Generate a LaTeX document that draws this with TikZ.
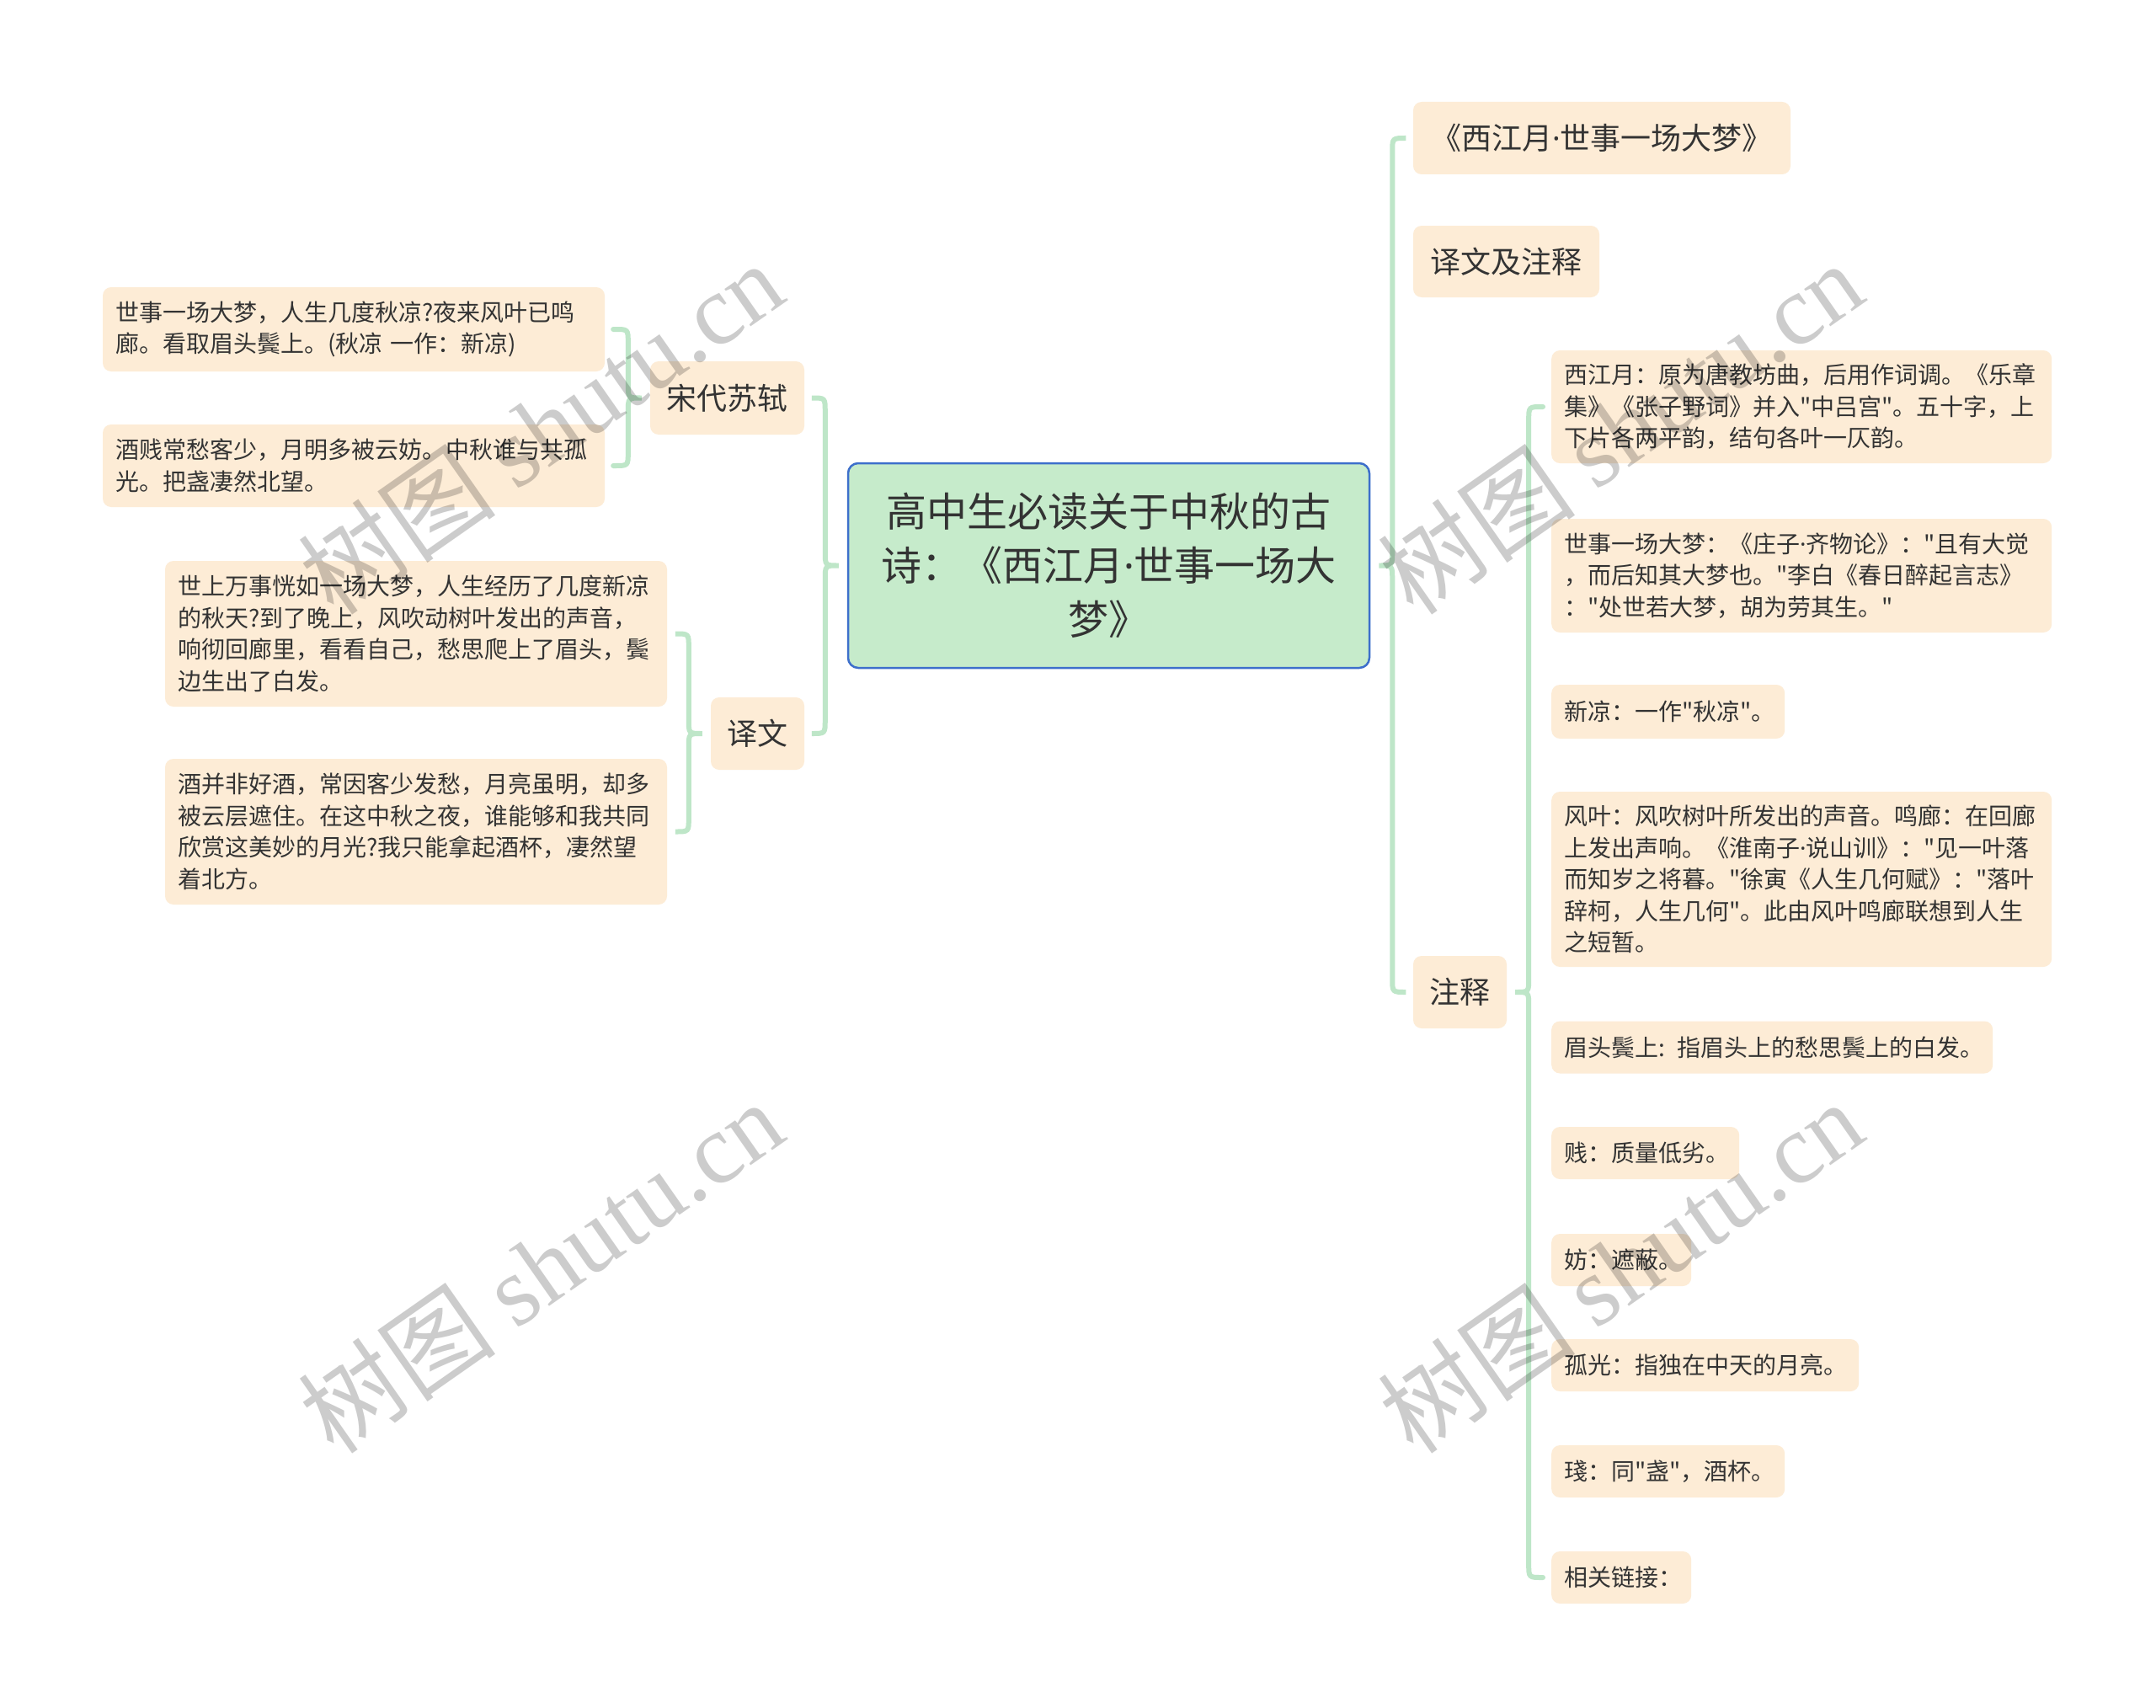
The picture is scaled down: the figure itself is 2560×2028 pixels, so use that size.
\documentclass[tikz,border=0pt]{standalone}
\usepackage{fontspec}
\setmainfont{Noto Sans CJK SC}[Ligatures=TeXOff]
\newfontfamily\wmserif{Liberation Serif}
\newfontfamily\latinf{Noto Sans}
\newcommand\md{{\latinf ·}}
\usetikzlibrary{calc}
\definecolor{leafc}{HTML}{FDECD6}
\definecolor{rootc}{HTML}{C6EBCB}
\definecolor{rootb}{HTML}{3D6FCB}
\definecolor{linec}{HTML}{BEE6C8}
\definecolor{txt}{HTML}{333333}
\tikzset{
 box/.style={rounded corners=10pt, fill=leafc, text=txt, inner sep=0pt},
 leaf/.style={box, inner xsep=15pt, align=left, font=\fontsize{28}{37.5}\selectfont},
 mid/.style={box, align=center, font=\fontsize{36}{44}\selectfont},
 root/.style={rounded corners=12pt, fill=rootc, draw=rootb, line width=2.5pt, text=txt, align=center, inner sep=0pt, font=\fontsize{48}{64}\selectfont},
 conn/.style={draw=linec, line width=6pt, line cap=round},
 wm/.style={text=black, text opacity=0.2, rotate=35, inner sep=0pt, font=\fontsize{118}{124}\selectfont}
}
% brace with children on the right: parent, top child, bottom child
\newcommand\bracer[3]{%
 \draw[conn] let \p1=(#1.east), \p2=(#2.west), \p3=(#3.west) in
  (\x2-10pt,\y2) -- (\x1+42pt,\y2) .. controls (\x1+26pt,\y2) .. (\x1+26pt,\y2-16pt)
  -- (\x1+26pt,\y1+16pt) .. controls (\x1+26pt,\y1) .. (\x1+10pt,\y1)
  .. controls (\x1+26pt,\y1) .. (\x1+26pt,\y1-16pt)
  -- (\x1+26pt,\y3+16pt) .. controls (\x1+26pt,\y3) .. (\x1+42pt,\y3) -- (\x3-10pt,\y3);
}
% brace with children on the left
\newcommand\bracel[3]{%
 \draw[conn] let \p1=(#1.west), \p2=(#2.east), \p3=(#3.east) in
  (\x2+10pt,\y2) -- (\x1-42pt,\y2) .. controls (\x1-26pt,\y2) .. (\x1-26pt,\y2-16pt)
  -- (\x1-26pt,\y1+16pt) .. controls (\x1-26pt,\y1) .. (\x1-10pt,\y1)
  .. controls (\x1-26pt,\y1) .. (\x1-26pt,\y1-16pt)
  -- (\x1-26pt,\y3+16pt) .. controls (\x1-26pt,\y3) .. (\x1-42pt,\y3) -- (\x3+10pt,\y3);
}
\begin{document}
\begin{tikzpicture}[x=1pt,y=-1pt]
\useasboundingbox (0,0) rectangle (2560,2028);
\fill[white] (0,0) rectangle (2560,2028);

% root
\node[root, minimum width=619pt, minimum height=243pt, text width=600pt] (root) at (1316.5,671.5)
 {高中生必读关于中秋的古\\诗：《西江月\md 世事一场大\\梦》};

% left side
\node[mid, minimum width=183pt, minimum height=87pt] (sd) at (863.5,472.5) {宋代苏轼};
\node[mid, minimum width=111pt, minimum height=86pt] (yw) at (899.5,871) {译文};

\node[leaf, minimum height=100pt, text width=566pt] (l1) at (420,391)
 {世事一场大梦，人生几度秋凉?夜来风叶已鸣\\廊。看取眉头鬓上。(秋凉 一作：新凉)};
\node[leaf, minimum height=98pt, text width=566pt] (l2) at (420,553)
 {酒贱常愁客少，月明多被云妨。中秋谁与共孤\\光。把盏凄然北望。};
\node[leaf, minimum height=173pt, text width=566pt] (l3) at (494,752.5)
 {世上万事恍如一场大梦，人生经历了几度新凉\\的秋天?到了晚上，风吹动树叶发出的声音，\\响彻回廊里，看看自己，愁思爬上了眉头，鬓\\边生出了白发。};
\node[leaf, minimum height=173pt, text width=566pt] (l4) at (494,987.5)
 {酒并非好酒，常因客少发愁，月亮虽明，却多\\被云层遮住。在这中秋之夜，谁能够和我共同\\欣赏这美妙的月光?我只能拿起酒杯，凄然望\\着北方。};

% right side
\node[mid, minimum width=448pt, minimum height=86pt] (title) at (1902,164) {《西江月\md 世事一场大梦》};
\node[mid, minimum width=221pt, minimum height=85pt] (ywzs) at (1788.5,310.5) {译文及注释};
\node[mid, minimum width=111pt, minimum height=86pt] (zs) at (1733.5,1178) {注释};

\node[leaf, anchor=west, minimum height=134pt, text width=564pt] (n1) at (1842,483)
 {西江月：原为唐教坊曲，后用作词调。《乐章\\集》《张子野词》并入"中吕宫"。五十字，上\\下片各两平韵，结句各叶一仄韵。};
\node[leaf, anchor=west, minimum height=135pt, text width=564pt] (n2) at (1842,683.5)
 {世事一场大梦：《庄子\md 齐物论》："且有大觉\\，而后知其大梦也。"李白《春日醉起言志》\\："处世若大梦，胡为劳其生。"};
\node[leaf, anchor=west, minimum height=64pt, text width=247pt] (n3) at (1842,845)
 {新凉：一作"秋凉"。};
\node[leaf, anchor=west, minimum height=208pt, text width=564pt] (n4) at (1842,1044)
 {风叶：风吹树叶所发出的声音。鸣廊：在回廊\\上发出声响。《淮南子\md 说山训》："见一叶落\\而知岁之将暮。"徐寅《人生几何赋》："落叶\\辞柯，人生几何"。此由风叶鸣廊联想到人生\\之短暂。};
\node[leaf, anchor=west, minimum height=62pt, text width=494pt] (n5) at (1842,1243.5)
 {眉头鬓上: 指眉头上的愁思鬓上的白发。};
\node[leaf, anchor=west, minimum height=62pt, text width=193pt] (n6) at (1842,1369)
 {贱：质量低劣。};
\node[leaf, anchor=west, minimum height=62pt, text width=136pt] (n7) at (1842,1496)
 {妨：遮蔽。};
\node[leaf, anchor=west, minimum height=62pt, text width=335pt] (n8) at (1842,1621)
 {孤光：指独在中天的月亮。};
\node[leaf, anchor=west, minimum height=62pt, text width=247pt] (n9) at (1842,1747)
 {琖：同"盏"，酒杯。};
\node[leaf, anchor=west, minimum height=62pt, text width=136pt] (n10) at (1842,1873)
 {相关链接：};

% connectors
\bracer{root}{title}{zs}
\bracer{zs}{n1}{n10}
\bracel{root}{sd}{yw}
\bracel{sd}{l1}{l2}
\bracel{yw}{l3}{l4}

% watermarks
\node[wm] (wm1) at (642,508) {树图 {\wmserif shutu.cn}};
\node[wm] (wm2) at (1924,508) {树图 {\wmserif shutu.cn}};
\node[wm] (wm3) at (642,1504) {树图 {\wmserif shutu.cn}};
\node[wm] (wm4) at (1924,1504) {树图 {\wmserif shutu.cn}};
\end{tikzpicture}
\end{document}
